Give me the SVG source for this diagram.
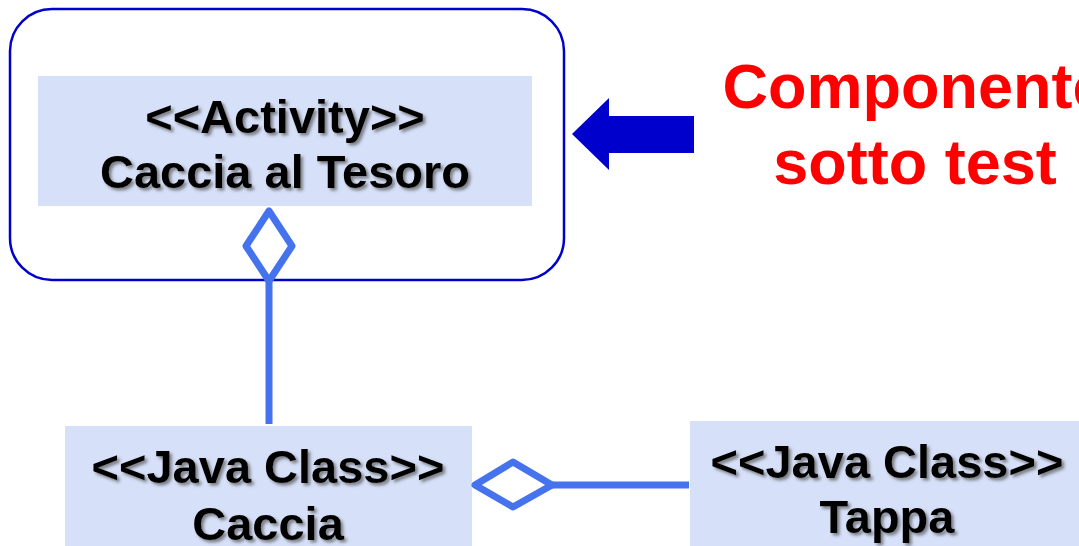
<svg xmlns="http://www.w3.org/2000/svg" width="1079" height="546" viewBox="0 0 1079 546">
  <defs>
    <filter id="txtShadow" x="-10%" y="-20%" width="120%" height="150%">
      <feDropShadow dx="2.5" dy="2.5" stdDeviation="1.6" flood-color="#555" flood-opacity="0.7"/>
    </filter>
  </defs>
  <style>
    .cls { fill: #d6e0f8; }
    .lbl { font-family: "Liberation Sans", Arial, sans-serif; font-weight: bold; font-size: 47px; fill: #000; text-anchor: middle; filter: url(#txtShadow); }
    .note { font-family: "Liberation Sans", Arial, sans-serif; font-weight: bold; font-size: 63px; fill: #ff0000; text-anchor: middle; }
    .link { fill: none; stroke: #4573ee; stroke-width: 7; stroke-linejoin: round; }
    .agg { fill: #fff; stroke: #4573ee; stroke-width: 7; stroke-linejoin: round; }
  </style>

  <!-- Activity container -->
  <g id="activity">
    <rect x="10" y="9" width="554" height="271" rx="42" ry="42" fill="#fff" stroke="#0000cc" stroke-width="2.5"/>
    <rect class="cls" x="38" y="76" width="494" height="130"/>
    <text class="lbl" x="285" y="133">&lt;&lt;Activity&gt;&gt;</text>
    <text class="lbl" x="285" y="188">Caccia al Tesoro</text>
  </g>

  <!-- Java class Caccia -->
  <g id="caccia">
    <rect class="cls" x="65" y="426" width="407" height="125"/>
    <text class="lbl" x="268" y="483">&lt;&lt;Java Class&gt;&gt;</text>
    <text class="lbl" x="268" y="540">Caccia</text>
  </g>

  <!-- Java class Tappa -->
  <g id="tappa">
    <rect class="cls" x="690" y="421" width="395" height="130"/>
    <text class="lbl" x="887" y="478">&lt;&lt;Java Class&gt;&gt;</text>
    <text class="lbl" x="887" y="533">Tappa</text>
  </g>

  <!-- Callout: component under test -->
  <g id="callout">
    <polygon points="572,134 609,98 609,116 694,116 694,153 609,153 609,170" fill="#0000cc"/>
    <text class="note" x="915" y="108">Componente</text>
    <text class="note" x="915" y="184">sotto test</text>
  </g>

  <!-- Aggregation connectors -->
  <g id="connectors">
    <line class="link" x1="269" y1="281" x2="269" y2="424"/>
    <polygon class="agg" points="269,211 292,246 269,281 246,246"/>
    <line class="link" x1="552" y1="485" x2="689" y2="485"/>
    <polygon class="agg" points="475,485 513,462 552,485 513,507"/>
  </g>
</svg>
